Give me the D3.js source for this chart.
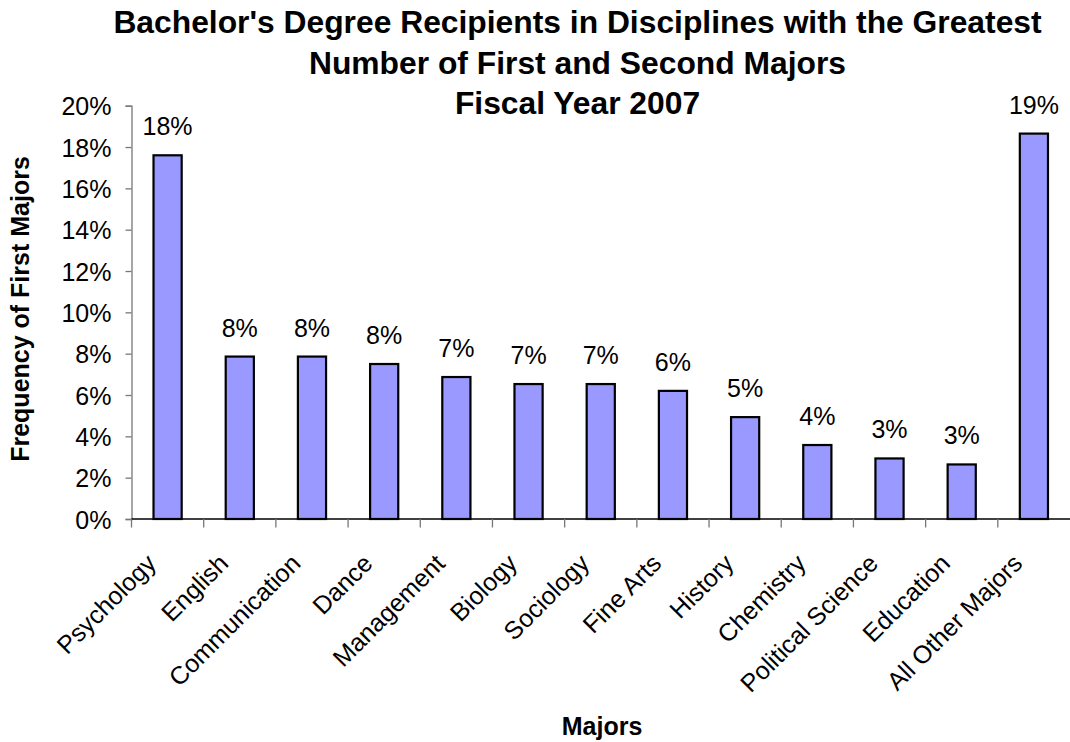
<!DOCTYPE html>
<html>
<head>
<meta charset="utf-8">
<script src="https://cdn.jsdelivr.net/npm/d3@7"></script>
<style>
  body { margin: 0; background: #fff; }
  text { font-family: "Liberation Sans", Arial, sans-serif; fill: #000; }
</style>
</head>
<body>
<script>
var majors = ["Psychology", "English", "Communication", "Dance", "Management", "Biology",
              "Sociology", "Fine Arts", "History", "Chemistry", "Political Science",
              "Education", "All Other Majors"];
var shares = [17.6, 7.86, 7.86, 7.5, 6.87, 6.53, 6.53, 6.2, 4.93, 3.58, 2.93, 2.64, 18.65];
var labels = ["18%", "8%", "8%", "8%", "7%", "7%", "7%", "6%", "5%", "4%", "3%", "3%", "19%"];
var yTicks = [0, 2, 4, 6, 8, 10, 12, 14, 16, 18, 20];
var titleLines = ["Bachelor's Degree Recipients in Disciplines with the Greatest",
                  "Number of First and Second Majors",
                  "Fiscal Year 2007"];

var W = 1070, H = 742;
var margin = {left: 131.5, right: 0, top: 105.7, bottom: 223};

var svg = d3.select("body").append("svg")
            .attr("width", W).attr("height", H);

var x = d3.scaleBand().domain(majors)
          .range([margin.left, W - margin.right])
          .paddingInner(0.61).paddingOuter(0.305);
var y = d3.scaleLinear().domain([0, 20]).range([H - margin.bottom, margin.top]);

// bars
svg.selectAll("rect.bar").data(majors)
   .enter().append("rect")
   .attr("class", "bar")
   .attr("x", function(d) { return x(d); })
   .attr("width", x.bandwidth())
   .attr("y", function(d, i) { return y(shares[i]); })
   .attr("height", function(d, i) { return y(0) - y(shares[i]); })
   .attr("fill", "#9999ff")
   .attr("stroke", "#000")
   .attr("stroke-width", 2.2);

// value labels
svg.selectAll("text.val").data(majors)
   .enter().append("text")
   .attr("class", "val")
   .attr("x", function(d) { return x(d) + x.bandwidth() / 2; })
   .attr("y", function(d, i) { return y(shares[i]) - 20; })
   .attr("text-anchor", "middle")
   .style("font-size", "25px")
   .text(function(d, i) { return labels[i]; });

// y axis
var yAxis = d3.axisLeft(y).tickValues(yTicks)
              .tickFormat(function(d) { return d + "%"; })
              .tickSize(6).tickPadding(14);
var gy = svg.append("g").attr("transform", "translate(" + margin.left + ",0)").call(yAxis);
gy.select(".domain").attr("stroke", "#777").attr("stroke-width", 1.3);
gy.selectAll(".tick line").attr("stroke", "#777").attr("stroke-width", 1.3);
gy.selectAll(".tick text").style("font-size", "25px").attr("dy", "0.36em")
  .style("font-family", "Liberation Sans, Arial, sans-serif").attr("fill", "#000");

// x axis line
svg.append("line")
   .attr("x1", margin.left).attr("x2", W)
   .attr("y1", y(0)).attr("y2", y(0))
   .attr("stroke", "#000").attr("stroke-width", 1.3);

// x ticks at band edges
var edges = majors.map(function(d) { return x(d) - x.step() * x.paddingInner() / 2; });
svg.selectAll("line.xt").data(edges)
   .enter().append("line")
   .attr("class", "xt")
   .attr("x1", function(d) { return d; }).attr("x2", function(d) { return d; })
   .attr("y1", y(0)).attr("y2", y(0) + 8.5)
   .attr("stroke", "#777").attr("stroke-width", 1.3);

// category labels
svg.selectAll("text.cat").data(majors)
   .enter().append("text")
   .attr("class", "cat")
   .attr("text-anchor", "end")
   .style("font-size", "25px")
   .attr("transform", function(d) {
     var cx = x(d) + x.bandwidth() / 2 - 10;
     return "translate(" + cx + "," + (y(0) + 46) + ") rotate(-45)";
   })
   .text(function(d) { return d; });

// title
svg.selectAll("text.title").data(titleLines)
   .enter().append("text")
   .attr("class", "title")
   .attr("x", 577.5)
   .attr("y", function(d, i) { return 33 + i * 40.5; })
   .attr("text-anchor", "middle")
   .style("font-size", "31.8px")
   .style("font-weight", "bold")
   .text(function(d) { return d; });

// axis titles
svg.append("text")
   .attr("transform", "translate(29," + 309 + ") rotate(-90)")
   .attr("text-anchor", "middle")
   .style("font-size", "25px").style("font-weight", "bold")
   .text("Frequency of First Majors");

svg.append("text")
   .attr("x", 602).attr("y", 735)
   .attr("text-anchor", "middle")
   .style("font-size", "25px").style("font-weight", "bold")
   .text("Majors");
</script>
</body>
</html>
